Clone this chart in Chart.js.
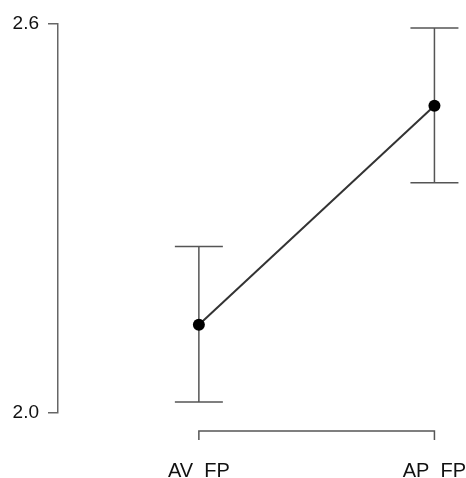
<!DOCTYPE html>
<html>
<head>
<meta charset="utf-8">
<script src="https://cdn.jsdelivr.net/npm/chart.js@4"></script>
<style>
  html, body { margin: 0; padding: 0; background: #fff; }
  #wrap { width: 466px; height: 478px; }
</style>
</head>
<body>
<div id="wrap"><canvas id="chart" width="466" height="478"></canvas></div>
<script>
// Data
const categories = ['AV  FP', 'AP  FP'];
const means = [2.136, 2.474];
const upper = [2.257, 2.594];
const lower = [2.017, 2.355];
const yTicks = [2.0, 2.6];

// error bars + the bracket-style x axis, drawn through the chart scales
const extras = {
    id: 'extras',
    beforeDatasetsDraw(chart) {
        const ctx = chart.ctx;
        const x = chart.scales.x, y = chart.scales.y;
        ctx.save();
        ctx.strokeStyle = '#555';
        ctx.lineWidth = 1.5;
        for (let i = 0; i < means.length; i++) {
            const px = x.getPixelForValue(i);
            const top = y.getPixelForValue(upper[i]);
            const bot = y.getPixelForValue(lower[i]);
            ctx.beginPath();
            ctx.moveTo(px, top); ctx.lineTo(px, bot);
            ctx.moveTo(px - 24, top); ctx.lineTo(px + 24, top);
            ctx.moveTo(px - 24, bot); ctx.lineTo(px + 24, bot);
            ctx.stroke();
        }
        // x axis bracket
        const x0 = x.getPixelForValue(0), x1 = x.getPixelForValue(categories.length - 1);
        const ay = chart.chartArea.bottom + 18;
        ctx.beginPath();
        ctx.moveTo(x0, ay + 9); ctx.lineTo(x0, ay);
        ctx.lineTo(x1, ay); ctx.lineTo(x1, ay + 9);
        ctx.stroke();
        ctx.restore();
    }
};

new Chart(document.getElementById('chart'), {
    type: 'line',
    data: {
        datasets: [{
            data: means.map((v, i) => ({ x: i, y: v })),
            borderColor: '#333',
            borderWidth: 2,
            pointRadius: 6,
            pointBackgroundColor: '#000',
            pointBorderColor: '#000',
            pointBorderWidth: 0
        }]
    },
    options: {
        responsive: false,
        animation: false,
        layout: { padding: { left: 0, top: 24, right: 0, bottom: 0 } },
        plugins: { legend: { display: false }, tooltip: { enabled: false } },
        scales: {
            x: {
                type: 'linear',
                min: -0.598,
                max: 1.1085,
                afterBuildTicks: s => { s.ticks = categories.map((c, i) => ({ value: i })); },
                afterFit: s => { s.height = 65; s.paddingLeft = 0; s.paddingRight = 0; },
                border: { display: false },
                grid: { display: false, drawTicks: false },
                ticks: {
                    callback: v => categories[v],
                    color: '#111',
                    font: { family: 'Liberation Sans', size: 20 },
                    padding: 46,
                    maxRotation: 0
                }
            },
            y: {
                min: 2.0,
                max: 2.6,
                afterBuildTicks: s => { s.ticks = yTicks.map(v => ({ value: v })); },
                afterFit: s => { s.width = 58; s.paddingTop = 0; s.paddingBottom = 0; },
                border: { color: '#666', width: 1.5 },
                grid: { drawOnChartArea: false, tickLength: 10, color: '#666', lineWidth: 1.5 },
                ticks: {
                    callback: v => v.toFixed(1),
                    color: '#111',
                    font: { family: 'Liberation Sans', size: 19 },
                    padding: 9
                }
            }
        }
    },
    plugins: [extras]
});
</script>
</body>
</html>
